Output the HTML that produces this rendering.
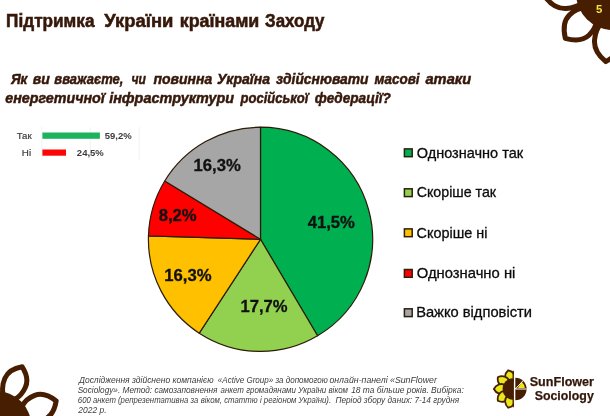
<!DOCTYPE html>
<html lang="uk"><head><meta charset="utf-8"><title>Підтримка України країнами Заходу</title>
<style>
html,body{margin:0;padding:0;background:#fff;}
body{width:610px;height:416px;overflow:hidden;}
svg{display:block;position:absolute;left:0;top:0;}
text{font-family:"Liberation Sans",sans-serif;}
.t{font-weight:bold;fill:#36180a;}
.q{font-weight:bold;font-style:italic;fill:#36180a;}
.leg{fill:#0c0c0c;}
.pl{font-weight:bold;fill:#111;stroke:#111;stroke-width:0.3px;}
.foot{font-style:italic;fill:#3c3c3c;}
.mini{fill:#404040;stroke:#404040;stroke-width:0.2px;}
.minib{fill:#3c3c3c;font-weight:bold;}
.logo{font-weight:bold;fill:#32160a;stroke:#32160a;stroke-width:0.25px;}
</style></head><body>
<svg width="610" height="416" viewBox="0 0 610 416">
<rect width="610" height="416" fill="#fff"/>
<path d="M617.8 23.7 C621.2 29.7 622.1 35.5 621.4 42.2 C620.3 52.3 613.2 57.8 605.8 61.6 C599.3 56.3 593.5 49.4 594.6 39.4 C595.3 32.6 597.3 27.2 601.9 22.0" fill="#fff" stroke="#481e03" stroke-width="5" stroke-linejoin="round"/>
<path d="M596.9 19.7 C596.1 26.2 593.4 30.9 588.9 35.2 C582.1 41.6 573.3 40.6 565.3 38.3 C563.4 30.1 562.8 21.3 569.6 14.9 C574.1 10.6 578.9 8.2 585.5 7.6" fill="#fff" stroke="#481e03" stroke-width="5" stroke-linejoin="round"/>
<path d="M583.4 2.3 C578.0 6.5 572.5 8.3 565.8 8.6 C555.8 9.0 549.4 2.8 544.6 -4.0 C548.8 -11.2 554.6 -18.0 564.7 -18.4 C571.3 -18.7 576.9 -17.4 582.7 -13.7" fill="#fff" stroke="#481e03" stroke-width="5" stroke-linejoin="round"/>
<circle cx="613" cy="-7" r="37" fill="#481e03"/>
<path d="M3.0 393.9 C1.9 388.2 2.6 383.4 4.9 378.3 C8.3 370.5 15.4 368.0 22.2 366.8 C26.0 372.7 28.8 379.6 25.4 387.3 C23.1 392.5 20.1 396.3 15.2 399.2" fill="#fff" stroke="#481e03" stroke-width="5" stroke-linejoin="round"/>
<path d="M22.2 405.9 C25.3 400.6 29.2 397.5 34.7 395.4 C42.8 392.2 50.0 396.1 56.2 400.9 C54.9 408.7 52.2 416.4 44.1 419.6 C38.7 421.7 33.7 422.1 27.7 420.3" fill="#fff" stroke="#481e03" stroke-width="5" stroke-linejoin="round"/>
<circle cx="-4" cy="426.3" r="35.3" fill="#481e03"/>
<text class="t" x="596.07" y="12.6" font-size="11.5" textLength="6.34" lengthAdjust="spacingAndGlyphs" style="fill:#f2e43c">5</text>
<text class="t" y="26.6" font-size="17.6" stroke="#36180a" stroke-width="0.55"><tspan x="6.11" textLength="88.36" lengthAdjust="spacingAndGlyphs">Підтримка</tspan> <tspan x="104.23" textLength="69.15" lengthAdjust="spacingAndGlyphs">України</tspan> <tspan x="179.76" textLength="79.59" lengthAdjust="spacingAndGlyphs">країнами</tspan> <tspan x="265.09" textLength="59.42" lengthAdjust="spacingAndGlyphs">Заходу</tspan></text>
<text class="q" y="84.4" font-size="14.9" stroke="#36180a" stroke-width="0.5"><tspan x="10.89" textLength="16.52" lengthAdjust="spacingAndGlyphs">Як</tspan> <tspan x="32.69" textLength="17.03" lengthAdjust="spacingAndGlyphs">ви</tspan> <tspan x="54.33" textLength="69.11" lengthAdjust="spacingAndGlyphs">вважаєте,</tspan> <tspan x="131.39" textLength="14.45" lengthAdjust="spacingAndGlyphs">чи</tspan> <tspan x="153.46" textLength="58.75" lengthAdjust="spacingAndGlyphs">повинна</tspan> <tspan x="217.12" textLength="53.00" lengthAdjust="spacingAndGlyphs">Україна</tspan> <tspan x="276.11" textLength="92.49" lengthAdjust="spacingAndGlyphs">здійснювати</tspan> <tspan x="374.52" textLength="45.06" lengthAdjust="spacingAndGlyphs">масові</tspan> <tspan x="425.47" textLength="45.67" lengthAdjust="spacingAndGlyphs">атаки</tspan></text>
<text class="q" y="103.2" font-size="14.9" stroke="#36180a" stroke-width="0.5"><tspan x="5.32" textLength="99.46" lengthAdjust="spacingAndGlyphs">енергетичної</tspan> <tspan x="109.16" textLength="124.93" lengthAdjust="spacingAndGlyphs">інфраструктури</tspan> <tspan x="240.53" textLength="67.89" lengthAdjust="spacingAndGlyphs">російської</tspan> <tspan x="314.63" textLength="76.17" lengthAdjust="spacingAndGlyphs">федерації?</tspan></text>
<line x1="41.9" x2="41.9" y1="127" y2="160" stroke="#e6e9ee" stroke-width="0.6"/>
<line x1="90.3" x2="90.3" y1="127" y2="160" stroke="#e6e9ee" stroke-width="0.6"/>
<line x1="139.2" x2="139.2" y1="127" y2="160" stroke="#e6e9ee" stroke-width="0.6"/>
<rect x="42.4" y="132.5" width="57.5" height="6.3" fill="#1db35c"/>
<rect x="42.4" y="149.5" width="23.6" height="6.2" fill="#fb0505"/>
<text class="mini" x="16.67" y="138.7" font-size="9.4" textLength="15.06" lengthAdjust="spacingAndGlyphs">Так</text>
<text class="mini" x="21.88" y="155.7" font-size="9.4" textLength="9.27" lengthAdjust="spacingAndGlyphs">Ні</text>
<text class="minib" x="104.77" y="139.0" font-size="9.4" textLength="26.96" lengthAdjust="spacingAndGlyphs">59,2%</text>
<text class="minib" x="76.87" y="156.0" font-size="9.4" textLength="26.97" lengthAdjust="spacingAndGlyphs">24,5%</text>
<g stroke="#2c1c08" stroke-width="1.2" stroke-linejoin="round">
<path d="M260.50 239.30 L260.50 127.20 A112.10 112.10 0 0 1 317.56 335.79 Z" fill="#00b050"/>
<path d="M260.50 239.30 L317.56 335.79 A112.10 112.10 0 0 1 199.25 333.19 Z" fill="#92d050"/>
<path d="M260.50 239.30 L199.25 333.19 A112.10 112.10 0 0 1 148.46 235.78 Z" fill="#ffc000"/>
<path d="M260.50 239.30 L148.46 235.78 A112.10 112.10 0 0 1 164.74 181.03 Z" fill="#ff0000"/>
<path d="M260.50 239.30 L164.74 181.03 A112.10 112.10 0 0 1 260.50 127.20 Z" fill="#a6a6a6"/>
</g>
<text class="pl" x="307.73" y="227.8" font-size="15.6" textLength="47.18" lengthAdjust="spacingAndGlyphs">41,5%</text>
<text class="pl" x="240.52" y="312.0" font-size="15.6" textLength="47.12" lengthAdjust="spacingAndGlyphs">17,7%</text>
<text class="pl" x="164.23" y="281.2" font-size="15.6" textLength="47.32" lengthAdjust="spacingAndGlyphs">16,3%</text>
<text class="pl" x="158.65" y="221.2" font-size="15.6" textLength="38.03" lengthAdjust="spacingAndGlyphs">8,2%</text>
<text class="pl" x="193.53" y="170.8" font-size="15.6" textLength="47.31" lengthAdjust="spacingAndGlyphs">16,3%</text>
<rect x="404.4" y="148.9" width="7.8" height="7.8" fill="#00b050" stroke="#2a200e" stroke-width="1.5"/>
<text class="leg" x="416.74" y="157.5" font-size="14.5" textLength="106.37" lengthAdjust="spacingAndGlyphs" stroke="#0c0c0c" stroke-width="0.3">Однозначно так</text>
<rect x="404.4" y="188.8" width="7.8" height="7.8" fill="#92d050" stroke="#2a200e" stroke-width="1.5"/>
<text class="leg" x="416.63" y="197.4" font-size="14.5" textLength="79.48" lengthAdjust="spacingAndGlyphs" stroke="#0c0c0c" stroke-width="0.3">Скоріше так</text>
<rect x="404.4" y="228.9" width="7.8" height="7.8" fill="#ffc000" stroke="#2a200e" stroke-width="1.5"/>
<text class="leg" x="416.60" y="237.5" font-size="14.5" textLength="70.93" lengthAdjust="spacingAndGlyphs" stroke="#0c0c0c" stroke-width="0.3">Скоріше ні</text>
<rect x="404.4" y="269.5" width="7.8" height="7.8" fill="#ff0000" stroke="#2a200e" stroke-width="1.5"/>
<text class="leg" x="416.69" y="278.1" font-size="14.5" textLength="98.69" lengthAdjust="spacingAndGlyphs" stroke="#0c0c0c" stroke-width="0.3">Однозначно ні</text>
<rect x="404.4" y="308.8" width="7.8" height="7.8" fill="#a6a6a6" stroke="#2a200e" stroke-width="1.5"/>
<text class="leg" x="416.15" y="317.4" font-size="14.5" textLength="115.82" lengthAdjust="spacingAndGlyphs" stroke="#0c0c0c" stroke-width="0.3">Важко відповісти</text>
<text class="foot" y="383.0" font-size="8.8"><tspan x="78.94" textLength="134.61" lengthAdjust="spacingAndGlyphs">Дослідження здійснено компанією</tspan> <tspan x="217.83" textLength="110.04" lengthAdjust="spacingAndGlyphs">«Active Group» за допомогою</tspan> <tspan x="329.42" textLength="107.42" lengthAdjust="spacingAndGlyphs">онлайн-панелі «SunFlower</tspan></text>
<text class="foot" y="393.1" font-size="8.8"><tspan x="77.63" textLength="139.86" lengthAdjust="spacingAndGlyphs">Sociology». Метод: самозаповнення</tspan> <tspan x="220.48" textLength="127.52" lengthAdjust="spacingAndGlyphs">анкет громадянами України віком</tspan> <tspan x="351.13" textLength="112.65" lengthAdjust="spacingAndGlyphs">18 та більше років. Вибірка:</tspan></text>
<text class="foot" y="403.2" font-size="8.8"><tspan x="77.84" textLength="120.41" lengthAdjust="spacingAndGlyphs">600 анкет (репрезентативна за</tspan> <tspan x="200.65" textLength="130.43" lengthAdjust="spacingAndGlyphs">віком, статтю і регіоном України).</tspan> <tspan x="335.51" textLength="123.63" lengthAdjust="spacingAndGlyphs">Період збору даних: 7-14 грудня</tspan></text>
<text class="foot" y="413.3" font-size="8.8"><tspan x="78.30" textLength="28.22" lengthAdjust="spacingAndGlyphs">2022 р.</tspan></text>
<clipPath id="lh"><rect x="480" y="360" width="33.9" height="56"/></clipPath>
<g stroke="#481e03" stroke-width="1.8" fill="#e8e81a" stroke-linejoin="miter" clip-path="url(#lh)">
<path d="M507.85 382.18 C503.95 379.60 504.41 373.58 508.28 370.26 C513.29 371.20 516.70 376.18 514.61 380.37 Z"/>
<path d="M504.82 386.91 C500.16 387.24 496.85 382.18 497.91 377.19 C502.45 374.88 508.19 376.76 509.08 381.35 Z"/>
<path d="M505.30 392.50 C501.80 395.60 496.10 393.60 493.90 389.00 C496.10 384.40 501.80 382.40 505.30 385.50 Z"/>
<path d="M509.08 396.65 C508.19 401.24 502.45 403.12 497.91 400.81 C496.85 395.82 500.16 390.76 504.82 391.09 Z"/>
<path d="M514.61 397.63 C516.70 401.82 513.29 406.80 508.28 407.74 C504.41 404.42 503.95 398.40 507.85 395.82 Z"/>
</g>
<path d="M513.4 378.2 A10.6 10.6 0 0 0 513.4 399.8 Z" fill="#481e03"/>
<line x1="513.2" x2="513.2" y1="370.8" y2="407.2" stroke="#481e03" stroke-width="1.3"/>
<path d="M515.3 377.7 A11.3 11.3 0 0 1 515.3 400.3 Z" fill="#481e03"/>
<path d="M517.80 388.00 L521.85 381.98 A9.6 9.6 0 0 1 524.90 388.00 Z" fill="#e8e81a"/>
<path d="M515.30 389.00 L523.01 380.74 M515.30 389.00 L526.60 389.00" stroke="#fff" stroke-width="1" fill="none"/>
<text class="logo" x="529.68" y="385.5" font-size="13.4" textLength="64.34" lengthAdjust="spacingAndGlyphs">SunFlower</text>
<text class="logo" x="534.69" y="399.5" font-size="13.4" textLength="59.08" lengthAdjust="spacingAndGlyphs">Sociology</text>
</svg>
</body></html>
